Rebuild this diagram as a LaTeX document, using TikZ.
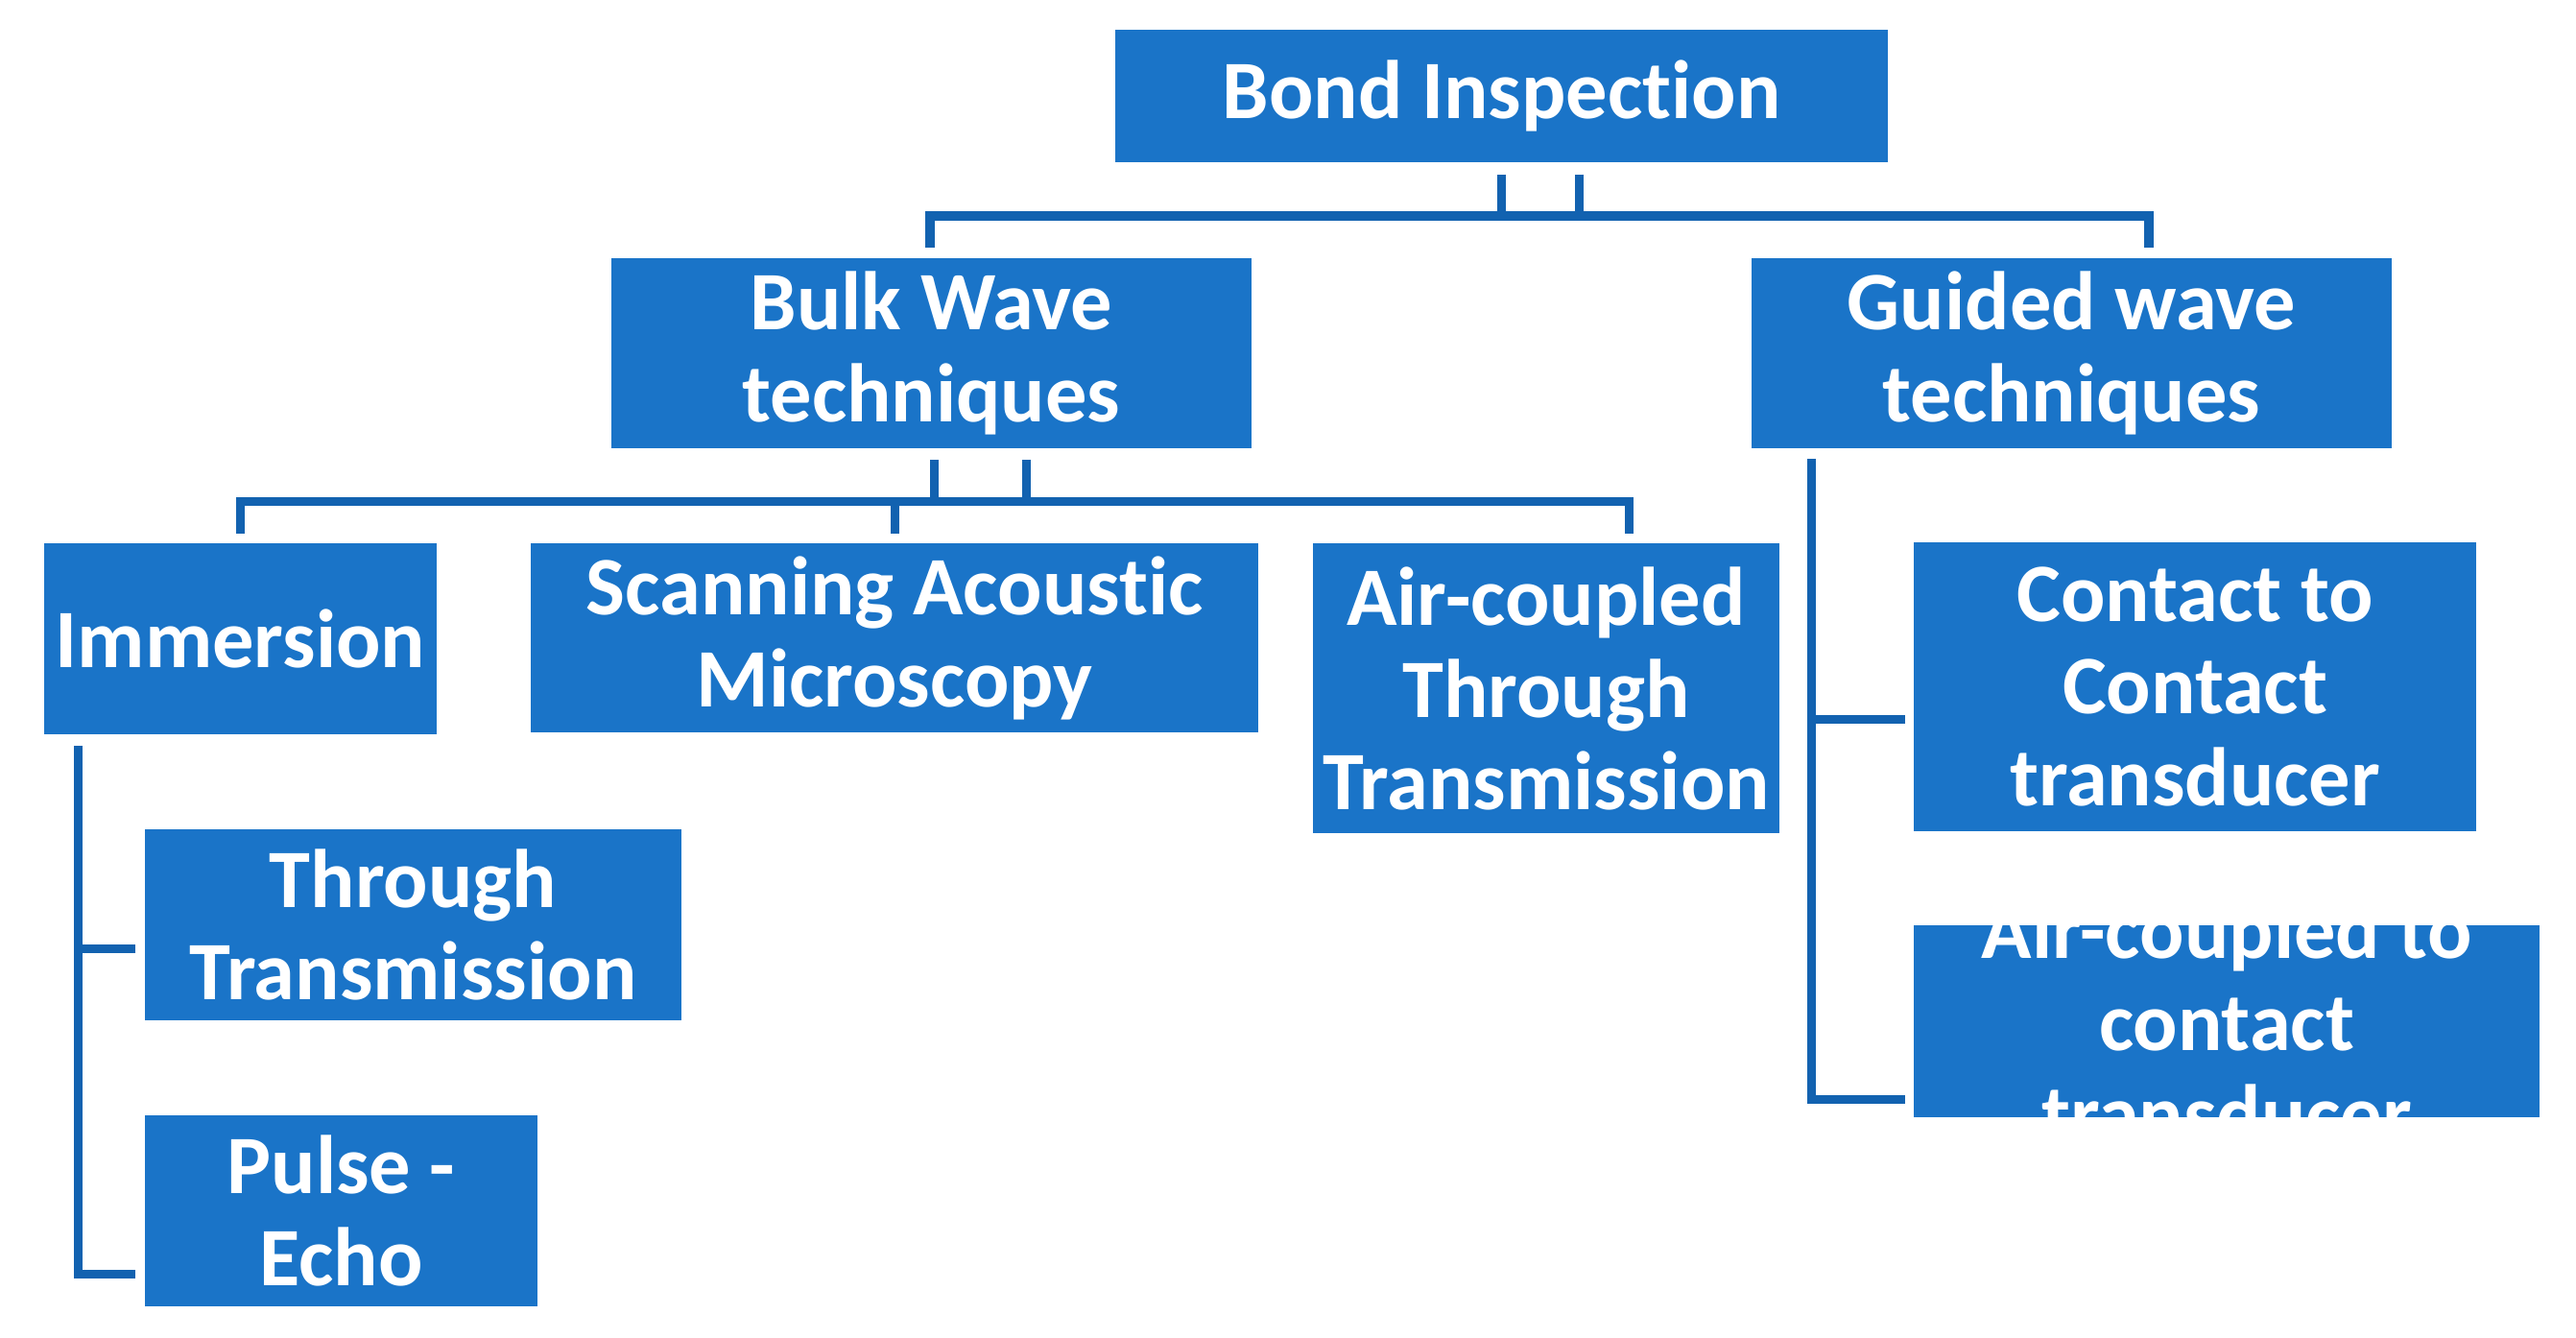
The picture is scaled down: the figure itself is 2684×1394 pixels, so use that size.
\documentclass[tikz,border=0pt]{standalone}
\usepackage{fontspec}
\setmainfont{Carlito}[Ligatures={NoCommon},RawFeature={-liga;-clig;-dlig}]
\usetikzlibrary{calc}
\definecolor{boxblue}{RGB}{26,116,200}
\definecolor{lineblue}{RGB}{18,98,176}
\tikzset{
  boxtext/.style={text=white,align=center,inner sep=0pt,font=\fontsize{24.6pt}{27.3pt}\selectfont\bfseries},
  box/.style={boxtext,fill=boxblue,rectangle},
  conn/.style={draw=lineblue,line width=2.56pt,line join=miter},
}
\begin{document}
\begin{tikzpicture}[x=0.01cm,y=-0.01cm]
\useasboundingbox (0,0) rectangle (2684,1394);

\node[box,minimum width=8.05cm,minimum height=1.38cm] (bond) at (1564.5,100) {Bond Inspection};
\node[box,minimum width=6.67cm,minimum height=1.98cm] (bulk) at (970.5,368) {Bulk Wave\\techniques};
\node[box,minimum width=6.67cm,minimum height=1.98cm] (guided) at (2158.5,368) {Guided wave\\techniques};
\node[box,minimum width=4.09cm,minimum height=1.99cm] (immersion) at (250.5,665.5) {Immersion};
\node[box,minimum width=7.58cm,minimum height=1.97cm] (sam) at (932,664.5) {Scanning Acoustic\\Microscopy};
\node[box,minimum width=4.86cm,minimum height=3.02cm] (act) at (1611,717) {Air-coupled\\Through\\Transmission};
\node[box,minimum width=5.86cm,minimum height=3.01cm] (c2c) at (2287,715.5) {Contact to\\Contact\\transducer};
\node[box,minimum width=6.52cm,minimum height=2.00cm,
      path picture={\node[boxtext] at (path picture bounding box.center) {Air-coupled to\\contact\\transducer};}]
      (a2c) at (2320,1064) {};
\node[box,minimum width=5.59cm,minimum height=1.99cm] (tt) at (430.5,963.5) {Through\\Transmission};
\node[box,minimum width=4.09cm,minimum height=1.99cm] (pe) at (355.5,1261.5) {Pulse -\\Echo};

% level 1 connectors
\draw[conn] ($(bond.south)+(0,12)$) -- ($(bond.south)+(0,57)$);
\draw[conn] ($(bond.south)+(81,12)$) -- ($(bond.south)+(81,57)$);
\draw[conn,line width=2.85pt] ($(bulk.north)+(-1.5,-10)$) |- ($(guided.north)+(80.5,-43)$) -- ($(guided.north)+(80.5,-10)$);

% level 2 connectors (bulk)
\draw[conn] ($(bulk.south)+(2.5,11)$) -- ($(bulk.south)+(2.5,56)$);
\draw[conn] ($(bulk.south)+(98.5,11)$) -- ($(bulk.south)+(98.5,56)$);
\draw[conn] ($(immersion.north)+(0,-9)$) |- ($(act.north)+(86,-43)$) -- ($(act.north)+(86,-9)$);
\draw[conn] ($(sam.north)+(0,-9)$) -- ($(sam.north)+(0,-43)$);

% immersion sub-tree
\draw[conn] ($(immersion.south west)+(36,11)$) |- ($(pe.west)+(-9,65.5)$);
\draw[conn] ($(tt.west)+(-9,24.5)$) -- ($(tt.west)+(-69,24.5)$);

% guided sub-tree
\draw[conn] ($(guided.south west)+(63,10)$) |- ($(a2c.west)+(-8,81)$);
\draw[conn] ($(c2c.west)+(-8,33.5)$) -- ($(c2c.west)+(-106,33.5)$);
\end{tikzpicture}
\end{document}
